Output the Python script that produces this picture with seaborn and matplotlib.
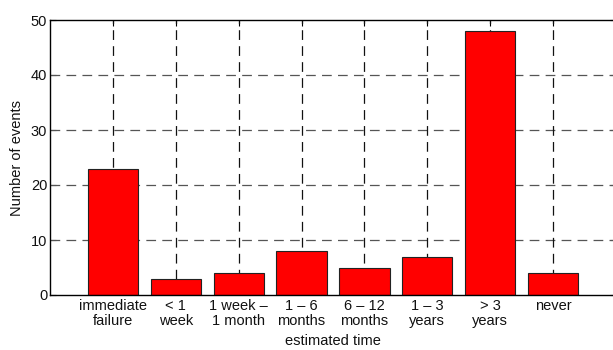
import matplotlib
matplotlib.use("Agg")
import matplotlib.pyplot as plt
import seaborn as sns
import pandas as pd

categories = ["immediate\nfailure", "< 1\nweek", "1 week –\n1 month", "1 – 6\nmonths",
              "6 – 12\nmonths", "1 – 3\nyears", "> 3\nyears", "never"]
events = [23, 3, 4, 8, 5, 7, 48, 4]
y_ticks = [0, 10, 20, 30, 40, 50]

sns.set_style("white")
plt.rcParams["font.family"] = ["Liberation Sans", "DejaVu Sans"]
plt.rcParams["font.size"] = 10.5
plt.rcParams["lines.scale_dashes"] = False

df = pd.DataFrame({"time": categories, "events": events})

fig = plt.figure(figsize=(6.13, 3.5), dpi=100)
ax = fig.add_axes([50 / 613, 55 / 350, 566 / 613, 275 / 350])

sns.barplot(data=df, x="time", y="events", order=categories, color="#ff0000",
            saturation=1, width=0.8, edgecolor="#222222", linewidth=0.8, ax=ax, zorder=3)

ax.set_xlim(-1, 8)
ax.set_ylim(0, 50)
ax.set_yticks(y_ticks)

# dashed grid drawn behind the bars
for y in y_ticks[1:-1]:
    ax.axhline(y, color="#555555", linestyle=(0, (7, 4.5)), linewidth=0.9, zorder=1)
for x in range(len(categories)):
    ax.axvline(x, color="#111111", linestyle=(0, (7, 4.5)), linewidth=0.9, zorder=1)

for side in ["left", "right", "top", "bottom"]:
    ax.spines[side].set_visible(True)
    ax.spines[side].set_color("black")
    ax.spines[side].set_linewidth(1.0)
    ax.spines[side].set_zorder(4)

ax.tick_params(axis="both", direction="in", length=4, width=0.8, color="black",
               labelsize=10.5, labelcolor="#111111")
ax.tick_params(axis="x", top=True, bottom=True, pad=3)
ax.tick_params(axis="y", left=True, right=True, pad=2)
for lbl in ax.get_xticklabels():
    lbl.set_linespacing(1.1)

ax.set_xlabel("estimated time", fontsize=10.5, color="#111111", labelpad=4)
ax.set_ylabel("Number of events", fontsize=10.5, color="#111111", labelpad=5)

fig.savefig("out.png", dpi=100)
